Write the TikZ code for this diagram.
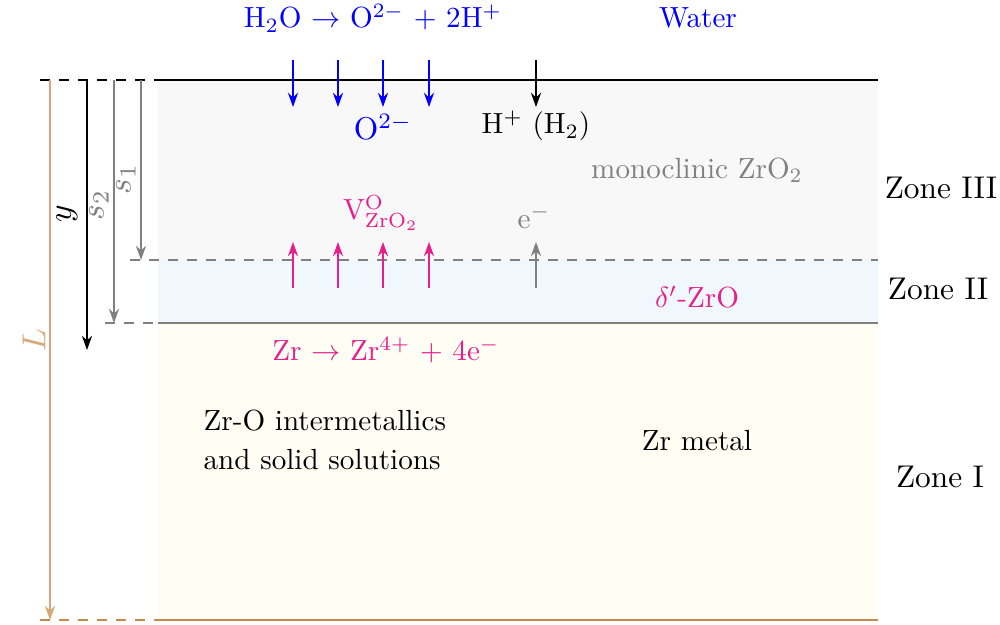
\documentclass[tikz,border=0pt]{standalone}
\usetikzlibrary{arrows.meta}
\definecolor{mag}{RGB}{232,30,140}
\definecolor{brn}{RGB}{200,136,79}
\definecolor{brnl}{RGB}{217,168,120}
\definecolor{zthree}{RGB}{248,248,248}
\definecolor{ztwo}{RGB}{240,247,253}
\definecolor{zfirst}{RGB}{255,254,244}
\begin{document}
\begin{tikzpicture}[x=0.0111cm,y=-0.0111cm,
  arr/.style={-{Stealth[length=4.5pt,width=3.2pt]}, line width=0.5pt},
  lbl/.style={inner sep=0pt, anchor=center, scale=0.92},
  zonelbl/.style={inner sep=0pt, anchor=center, scale=0.99},
  dimlbl/.style={inner sep=0pt, anchor=center, rotate=90, scale=1.05},
  boundary/.style={line width=0.8pt}]
\useasboundingbox (0,0) rectangle (1000,624);
% zone fills
\fill[zthree] (158,80) rectangle (878,260);
\fill[ztwo] (158,260) rectangle (878,323);
\fill[zfirst] (158,323) rectangle (878,620);
% boundaries
\coordinate (t0) at (40,80); \coordinate (t1) at (158,80); \coordinate (t2) at (878,80);
\draw[boundary, dashed] (t0) -- (t1);
\draw[boundary] (t1) -- (t2);
\coordinate (d0) at (130,260); \coordinate (d2) at (878,260);
\draw[gray, line width=0.6pt, dashed] (d0) -- (d2);
\coordinate (m0) at (105,323); \coordinate (m1) at (158,323); \coordinate (m2) at (878,323);
\draw[gray, boundary, dashed] (m0) -- (m1);
\draw[gray, boundary] (m1) -- (m2);
\coordinate (b0) at (40,620); \coordinate (b1) at (158,620); \coordinate (b2) at (878,620);
\draw[brn, boundary, dashed] (b0) -- (b1);
\draw[brn, boundary] (b1) -- (b2);
% depth arrows
\coordinate (La) at (50,80); \coordinate (Lb) at (50,620);
\draw[arr, brnl] (La) -- (Lb);
\node[dimlbl, brnl] (Ltxt) at (34,340) {$L$};
\coordinate (ya) at (87,80); \coordinate (yb) at (87,350);
\draw[arr] (ya) -- (yb);
\node[dimlbl] (ytxt) at (67,214) {$y$};
\coordinate (s2a) at (114,80); \coordinate (s2b) at (114,323);
\draw[arr, gray] (s2a) -- (s2b);
\node[dimlbl, gray] (s2txt) at (99,205) {$s_2$};
\coordinate (s1a) at (141,80); \coordinate (s1b) at (141,260);
\draw[arr, gray] (s1a) -- (s1b);
\node[dimlbl, gray] (s1txt) at (126,179) {$s_1$};
% top reaction
\node[lbl, blue] (react) at (373,18) {H$_2$O $\rightarrow$ O$^{2-}$ $+$ 2H$^+$};
\node[lbl, blue] (water) at (698,18) {Water};
\foreach \x/\k in {293/a,338/b,383/c,429/d}{
  \coordinate (oa\k) at (\x,60); \coordinate (ob\k) at (\x,107);
  \draw[arr, blue] (oa\k) -- (ob\k);
}
\coordinate (ha) at (536,60); \coordinate (hb) at (536,107);
\draw[arr] (ha) -- (hb);
\node[lbl, blue, scale=1.08] (oion) at (383,127) {O$^{2-}$};
\node[lbl] (hion) at (536,126) {H$^+$ (H$_2$)};
\node[lbl, gray] (mono) at (697,170) {monoclinic ZrO$_2$};
\node[zonelbl] (z3) at (941,188) {Zone III};
% vacancies
\node[lbl, mag] (vac) at (381,213) {V$^{\mathrm{O}}_{\mathrm{ZrO_2}}$};
\node[lbl, gray] (el) at (534,217) {e$^-$};
\foreach \x/\k in {293/a,338/b,383/c,429/d}{
  \coordinate (va\k) at (\x,288); \coordinate (vb\k) at (\x,242);
  \draw[arr, mag] (va\k) -- (vb\k);
}
\coordinate (ea) at (536,288); \coordinate (eb) at (536,242);
\draw[arr, gray] (ea) -- (eb);
\node[lbl, mag] (delta) at (697,297) {$\delta'$-ZrO};
\node[zonelbl] (z2) at (938,289) {Zone II};
% zone I
\node[lbl, mag] (zrox) at (386,350) {Zr $\rightarrow$ Zr$^{4+}$ $+$ 4e$^-$};
\node[lbl, align=left, anchor=west, font=\fontsize{10}{13.4}\selectfont] (inter) at (203,440) {Zr-O intermetallics\\and solid solutions};
\node[lbl] (zrm) at (697,441) {Zr metal};
\node[zonelbl] (z1) at (940,477) {Zone I};
\end{tikzpicture}
\end{document}
